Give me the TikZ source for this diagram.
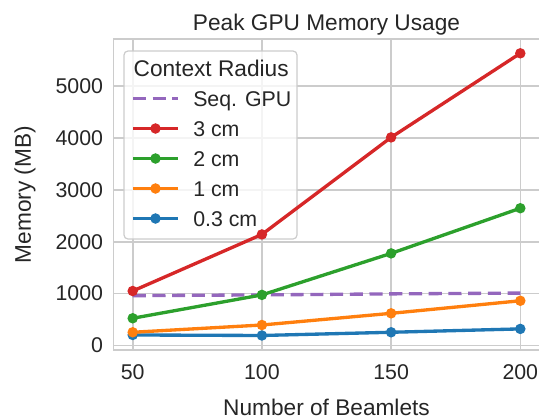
\documentclass[tikz,border=0pt]{standalone}
\usepackage{fontspec}
\setmainfont{Liberation Sans}
\definecolor{txt}{RGB}{38,38,38}
\definecolor{gridc}{HTML}{CCCCCC}
\definecolor{cred}{HTML}{D62728}
\definecolor{cgreen}{HTML}{2CA02C}
\definecolor{corange}{HTML}{FF7F0E}
\definecolor{cblue}{HTML}{1F77B4}
\definecolor{cpurple}{HTML}{9467BD}
\tikzset{
  gridline/.style={draw=gridc, line width=1.2pt},
  serie/.style={draw=#1, line width=2.5pt, line join=round},
  seqline/.style={draw=cpurple, line width=2.5pt, dash pattern=on 9.8pt off 5pt},
  dotm/.style={circle, fill=#1, draw=none, inner sep=0pt, minimum size=7.9pt},
  big/.style={font=\fontsize{17}{20}\selectfont},
  small/.style={font=\fontsize{16}{19}\selectfont},
  lbl/.style={inner sep=0pt, text=txt}
}
\begin{document}
\begin{tikzpicture}[x=0.75pt,y=-0.75pt]
\useasboundingbox (0,0) rectangle (539,419);
% grid
\foreach \gx in {132.7,261.9,391.1,520.3}
  \draw[gridline] (\gx,39.2) -- (\gx,350);
\foreach \k in {0,...,5}{
  \pgfmathsetmacro\yy{345.5-51.9*\k}
  \draw[gridline] (113.3,\yy) -- (539.7,\yy);
}
% frame
\draw[gridline] (113.3,39.2) rectangle (539.7,350);
% tick labels
\foreach \k in {0,...,5}{
  \pgfmathsetmacro\yy{345.5-51.9*\k}
  \pgfmathtruncatemacro\lab{1000*\k}
  \node[lbl,small,anchor=east] (yt\k) at (103.3,\yy) {\lab};
}
\foreach \gx/\lab in {132.7/50,261.9/100,391.1/150,520.3/200}
  \node[lbl,small,anchor=base] (xt\lab) at (\gx,379) {\lab};
% axis labels and title
\node[lbl,big,anchor=base] (title) at (326.5,30) {Peak GPU Memory Usage};
\node[lbl,big,anchor=base] (xlabel) at (326.5,415.5) {Number of Beamlets};
\node[lbl,big,anchor=base,rotate=90] (ylabel) at (31,194.6) {Memory (MB)};
% legend box
\path[fill=white, fill opacity=0.8, draw=gridc, line width=0.9pt, rounded corners=3pt]
  (124,51) rectangle (297,239);
% data
\begin{scope}[shift={(3.5,345.5)}, x=1.938pt, y=0.038925pt]
  % Seq. GPU
  \coordinate (p1) at (50,960);
  \coordinate (p2) at (100,975);
  \coordinate (p3) at (150,995);
  \coordinate (p4) at (200,1010);
  \draw[seqline] (p1) -- (p2) -- (p3) -- (p4);
  % 0.3 cm
  \coordinate (b1) at (50,203);
  \coordinate (b2) at (100,193);
  \coordinate (b3) at (150,255);
  \coordinate (b4) at (200,320);
  \draw[serie=cblue] (b1) -- (b2) -- (b3) -- (b4);
  \foreach \i in {1,...,4} \node[dotm=cblue] (bm\i) at (b\i) {};
  % 1 cm
  \coordinate (o1) at (50,255);
  \coordinate (o2) at (100,395);
  \coordinate (o3) at (150,620);
  \coordinate (o4) at (200,862);
  \draw[serie=corange] (o1) -- (o2) -- (o3) -- (o4);
  \foreach \i in {1,...,4} \node[dotm=corange] (om\i) at (o\i) {};
  % 2 cm
  \coordinate (g1) at (50,525);
  \coordinate (g2) at (100,975);
  \coordinate (g3) at (150,1775);
  \coordinate (g4) at (200,2645);
  \draw[serie=cgreen] (g1) -- (g2) -- (g3) -- (g4);
  \foreach \i in {1,...,4} \node[dotm=cgreen] (gm\i) at (g\i) {};
  % 3 cm
  \coordinate (r1) at (50,1050);
  \coordinate (r2) at (100,2140);
  \coordinate (r3) at (150,4010);
  \coordinate (r4) at (200,5630);
  \draw[serie=cred] (r1) -- (r2) -- (r3) -- (r4);
  \foreach \i in {1,...,4} \node[dotm=cred] (rm\i) at (r\i) {};
\end{scope}
% legend entries
\node[lbl,big,anchor=base west] (legtitle) at (133.4,76.5) {Context Radius};
\draw[seqline] (133,98.5) -- (178,98.5);
\node[lbl,small,anchor=base west] (leg0) at (193,106.5) {Seq. GPU};
\foreach \y/\c/\t/\n in {128.5/cred/3 cm/1,158.5/cgreen/2 cm/2,188.5/corange/1 cm/3,218.5/cblue/0.3 cm/4}{
  \draw[serie=\c] (133,\y) -- (178,\y);
  \node[dotm=\c] (legm\n) at (155.5,\y) {};
  \node[lbl,small,anchor=base west] (leg\n) at (193,\y+8) {\t};
}
\end{tikzpicture}
\end{document}
